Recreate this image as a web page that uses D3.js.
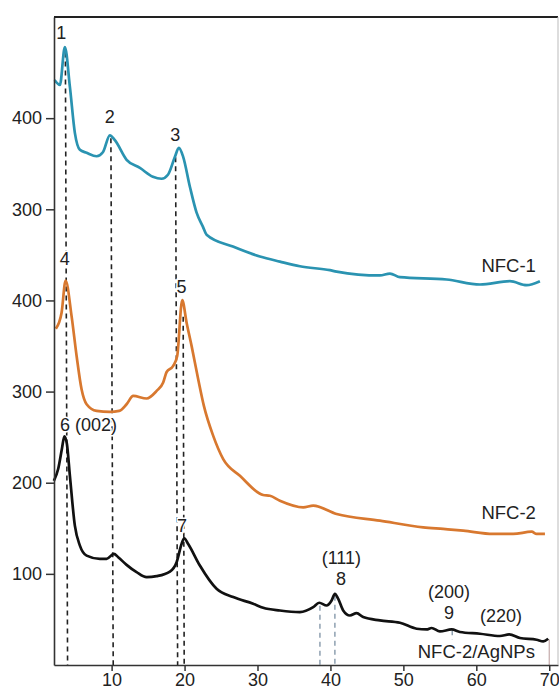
<!DOCTYPE html>
<html>
<head>
<meta charset="utf-8">
<script src="https://cdn.jsdelivr.net/npm/d3@7"></script>
<style>
  body { margin: 0; background: #fff; }
  svg text { font-family: "Liberation Sans", Arial, sans-serif; fill: #222; }
</style>
</head>
<body>
<svg id="chart"></svg>
<script>
// 2-theta positions
var nfc1X = [2.18, 2.91, 3.59, 4.28, 4.96, 5.65, 6.57, 7.94, 8.80, 9.76, 10.45, 12.05, 13.88, 15.66, 16.85, 17.72, 18.68, 19.22, 19.81, 20.73, 21.65, 22.51, 23.02, 26.63, 30.33, 33.07, 35.81, 39.93, 40.85, 46.78, 48.16, 49.53, 55.93, 60.5, 64.61, 66.9, 68.72];
var nfc1Y = [441.9, 436.5, 478.1, 434.3, 383.9, 365.3, 362.0, 358.2, 362.6, 381.2, 375.8, 354.3, 345.4, 335.7, 333.5, 337.9, 357.6, 367.5, 357.6, 324.8, 296.3, 281.0, 272.2, 259.1, 248.2, 242.6, 237.5, 233.2, 231.7, 227.4, 229.5, 225.5, 223.0, 217.5, 221.1, 216.7, 221.1];

var nfc2X = [2.36, 3.14, 3.69, 4.51, 5.20, 5.88, 6.57, 7.94, 9.76, 11.04, 12.05, 12.96, 14.80, 16.17, 17.07, 17.54, 18.44, 18.99, 19.68, 20.28, 20.97, 21.87, 22.65, 23.93, 25.30, 27.59, 30.78, 31.70, 33.07, 36.27, 37.64, 40.85, 46.78, 52.72, 55.46, 58.21, 62.32, 65.06, 67.59, 68.27, 69.41];
var nfc2Y = [369.0, 386.5, 421.9, 382.8, 339.0, 302.5, 286.1, 278.8, 277.7, 278.8, 286.1, 295.2, 292.4, 300.7, 309.9, 321.5, 328.1, 339.0, 400.3, 375.6, 349.9, 313.5, 284.3, 251.4, 225.9, 207.6, 186.5, 185.7, 180.3, 173.0, 174.8, 165.7, 158.4, 151.1, 149.3, 147.4, 143.8, 143.8, 146.3, 143.8, 143.8];

var agX = [2.08, 2.67, 3.18, 3.52, 3.86, 4.28, 4.96, 5.65, 6.57, 8.39, 9.31, 10.31, 10.90, 12.05, 13.42, 14.80, 16.17, 17.99, 18.91, 19.59, 19.95, 20.50, 22.10, 24.39, 26.67, 29.41, 30.78, 33.07, 35.81, 37.64, 38.46, 39.48, 40.16, 40.61, 41.07, 41.75, 42.67, 43.59, 44.49, 46.78, 49.53, 51.82, 53.19, 53.87, 55.01, 56.62, 57.75, 60.5, 63.24, 64.51, 65.98, 68.27, 69.18, 69.86];
var agY = [202.1, 215.0, 237.0, 251.0, 243.0, 207.6, 152.9, 131.0, 120.0, 116.4, 116.4, 121.9, 118.3, 109.9, 101.9, 96.4, 97.5, 102.5, 112.8, 132.8, 139.1, 132.8, 109.1, 83.6, 74.5, 67.2, 62.8, 59.8, 58.1, 63.5, 68.3, 65.3, 70.8, 78.1, 72.6, 59.8, 54.3, 57.0, 52.6, 48.9, 46.4, 39.8, 39.0, 40.6, 36.8, 39.0, 36.2, 34.3, 31.8, 33.5, 29.6, 27.7, 25.9, 28.8];

var seriesNames = ["NFC-1", "NFC-2", "NFC-2/AgNPs"];
var seriesOffsets = [200, 0, 0];

var xTicks = [10, 20, 30, 40, 50, 60, 70];
var yTickValues = [100, 200, 300, 400, 500, 600];
var yTickLabels = ["100", "200", "300", "400", "300", "400"];

// peak markers: x top, x bottom, top value, bottom value
var blackDrops = [[3.66, 3.96, 672, 0], [9.9, 10.22, 578, 0], [18.77, 19.05, 557, 0], [19.81, 19.95, 382, 0]];
var grayDrops = [[38.56, 38.56, 65, 0], [40.61, 40.61, 76, 0], [56.7, 56.7, 38, 28]];
var pinkDrops = [[70.0, 70.0, 28, 0]];

// annotations: text, x, y, anchor
var peakLabels = [
  ["1", 3.11, 686.9, "middle"], ["2", 9.76, 594.9, "middle"], ["3", 18.74, 575.2, "middle"],
  ["4", 3.59, 439.3, "middle"], ["5", 19.57, 408.6, "middle"], ["6 (002)", 2.91, 256.4, "start"],
  ["7", 19.64, 145.7, "middle"], ["(111)", 41.5, 110.5, "middle"], ["8", 41.44, 88.2, "middle"],
  ["(200)", 56.25, 73.2, "middle"], ["9", 56.25, 51.0, "middle"], ["(220)", 63.38, 47.1, "middle"]
];
var nameLabels = [["NFC-1", 68.17, 431.6], ["NFC-2", 68.17, 160.0], ["NFC-2/AgNPs", 68.04, 7.7]];

var width = 559, height = 691;
var padding = { top: 17, right: 1, bottom: 26, left: 54 };

var svg = d3.select("#chart").attr("width", width).attr("height", height);

var xScale = d3.scaleLinear()
  .domain([2.1, 71.2])
  .range([padding.left, width - padding.right]);

var yScale = d3.scaleLinear()
  .domain([0, 711])
  .range([height - padding.bottom, padding.top]);

var colors = ["#2a93b1", "#d8782f", "#111111"];

function toPoints(xs, ys, off) {
  return xs.map(function(x, i) { return { x: x, y: ys[i] + off }; });
}

var series = [
  toPoints(nfc1X, nfc1Y, seriesOffsets[0]),
  toPoints(nfc2X, nfc2Y, seriesOffsets[1]),
  toPoints(agX, agY, seriesOffsets[2])
];

// drop lines
function drawDrops(list, color, dash, w) {
  svg.append("g")
    .selectAll("line")
    .data(list)
    .enter()
    .append("line")
      .attr("x1", d => xScale(d[0]))
      .attr("x2", d => xScale(d[1]))
      .attr("y1", d => yScale(d[2]))
      .attr("y2", d => yScale(d[3]))
      .attr("stroke", color)
      .attr("stroke-width", w)
      .attr("stroke-dasharray", dash);
}
drawDrops(grayDrops, "#8ea0b0", "5,4", 1.5);
drawDrops(pinkDrops, "#c4aaaa", null, 1.2);
drawDrops(blackDrops, "#222", "5,4", 1.6);

// curves
var line = d3.line()
  .x(d => xScale(d.x))
  .y(d => yScale(d.y))
  .curve(d3.curveMonotoneX);

svg.append("g")
  .selectAll("path")
  .data(series)
  .enter()
  .append("path")
    .attr("d", line)
    .attr("fill", "none")
    .attr("stroke", (d, i) => colors[i])
    .attr("stroke-width", 2.7)
    .attr("stroke-linejoin", "round");

// labels with white halo so the dashes stop under them
svg.append("g")
  .selectAll("text")
  .data(peakLabels)
  .enter()
  .append("text")
    .attr("x", d => xScale(d[1]))
    .attr("y", d => yScale(d[2]))
    .attr("text-anchor", d => d[3])
    .attr("font-size", 18)
    .attr("stroke", "#fff")
    .attr("stroke-width", 3)
    .attr("paint-order", "stroke")
    .text(d => d[0]);

svg.append("g")
  .selectAll("text")
  .data(nameLabels)
  .enter()
  .append("text")
    .attr("x", d => xScale(d[1]))
    .attr("y", d => yScale(d[2]))
    .attr("text-anchor", "end")
    .attr("font-size", 18.5)
    .attr("stroke", "#fff")
    .attr("stroke-width", 4)
    .attr("paint-order", "stroke")
    .text(d => d[0]);

// axes
var xAxis = svg.append("g")
  .attr("transform", "translate(0," + (height - padding.bottom) + ")")
  .call(d3.axisBottom(xScale).tickValues(xTicks).tickSize(6).tickSizeOuter(0).tickPadding(2));

var yAxis = svg.append("g")
  .attr("transform", "translate(" + padding.left + ",0)")
  .call(d3.axisLeft(yScale).tickValues(yTickValues)
    .tickFormat((d, i) => yTickLabels[i]).tickSize(8).tickSizeOuter(0).tickPadding(4));

[xAxis, yAxis].forEach(function(ax) {
  ax.selectAll("text").attr("font-size", 18).attr("font-family", null);
  ax.selectAll("line").attr("stroke", "#333").attr("stroke-width", 1.5);
  ax.select(".domain").attr("stroke", "#333").attr("stroke-width", 1.6);
});

// frame top and right
svg.append("line")
  .attr("x1", padding.left).attr("x2", width - padding.right)
  .attr("y1", padding.top).attr("y2", padding.top)
  .attr("stroke", "#222").attr("stroke-width", 2.2);
svg.append("line")
  .attr("x1", width - padding.right).attr("x2", width - padding.right)
  .attr("y1", padding.top).attr("y2", height - padding.bottom)
  .attr("stroke", "#bbb").attr("stroke-width", 1);
</script>
</body>
</html>
